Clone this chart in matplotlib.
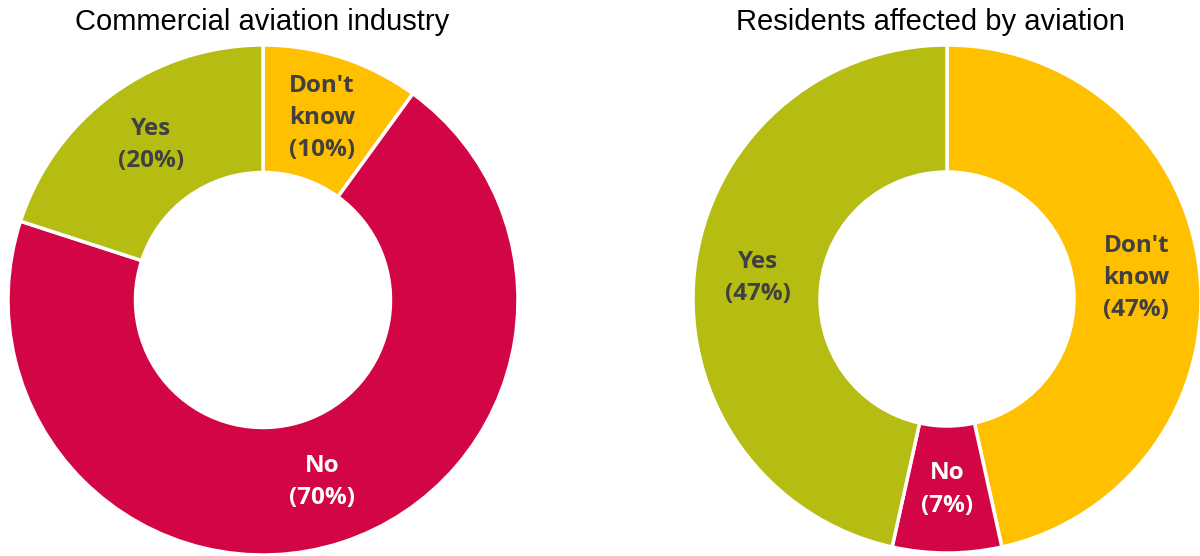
import numpy as np
import matplotlib.pyplot as plt

categories = ["Don't\nknow", "No", "Yes"]
industry = [10, 70, 20]
residents = [47, 7, 47]
titles = ["Commercial aviation industry", "Residents affected by aviation"]

colors = ["#FFC000", "#D20545", "#B5BD12"]
text_colors = ["#404040", "white", "#404040"]

W, H = 1200, 556
fig = plt.figure(figsize=(W / 100, H / 100), dpi=100)


def donut(cx, cy, r, values, title, title_x):
    ax = fig.add_axes([(cx - r) / W, (H - cy - r) / H, 2 * r / W, 2 * r / H])
    wedges, _ = ax.pie(values, colors=colors, startangle=90, counterclock=False,
                       radius=1, wedgeprops=dict(width=0.5, edgecolor="white", linewidth=2.5))
    ax.set_xlim(-1, 1)
    ax.set_ylim(-1, 1)
    ax.axis("off")
    for w, cat, v, tc in zip(wedges, categories, values, text_colors):
        ang = np.deg2rad((w.theta1 + w.theta2) / 2)
        ax.text(0.75 * np.cos(ang), 0.75 * np.sin(ang), f"{cat}\n({v}%)",
                ha="center", va="center", color=tc, fontsize=17.5,
                fontweight="bold", family="Open Sans", linespacing=1.45)
    fig.text(title_x / W, 1 - 22 / H, title, ha="center", va="center",
             fontsize=21, family="Liberation Sans", color="black")


donut(263, 300, 255, industry, titles[0], 262)
donut(947, 299, 254, residents, titles[1], 930)

fig.savefig("out.png", dpi=100)
